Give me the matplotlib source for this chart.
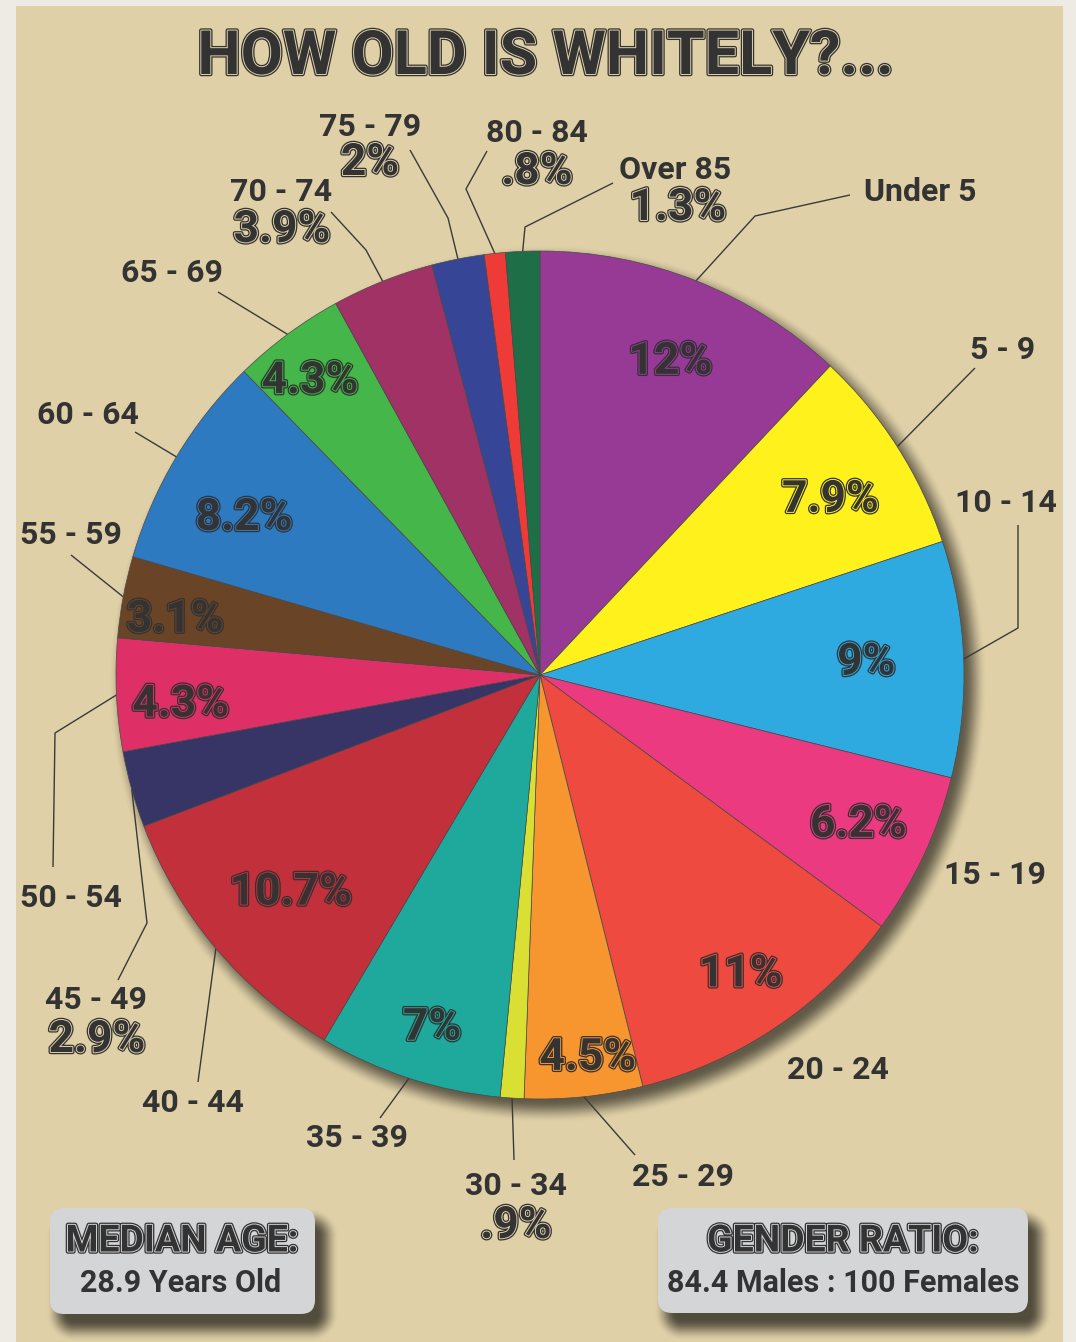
import numpy as np
import matplotlib
matplotlib.use("Agg")
import matplotlib.pyplot as plt
import matplotlib.patheffects as pe
from matplotlib.patches import FancyBboxPatch, Rectangle

W, H = 1076, 1342

# -------------------------------------------------------------------
# Data
# -------------------------------------------------------------------
age_groups = ["Under 5", "5 - 9", "10 - 14", "15 - 19", "20 - 24", "25 - 29",
              "30 - 34", "35 - 39", "40 - 44", "45 - 49", "50 - 54", "55 - 59",
              "60 - 64", "65 - 69", "70 - 74", "75 - 79", "80 - 84", "Over 85"]
shares = [12, 7.9, 9, 6.2, 11, 4.5, 0.9, 7, 10.7, 2.9, 4.3, 3.1, 8.2, 4.3,
          3.9, 2, 0.8, 1.3]
share_labels = ["12%", "7.9%", "9%", "6.2%", "11%", "4.5%", ".9%", "7%", "10.7%",
                "2.9%", "4.3%", "3.1%", "8.2%", "4.3%", "3.9%", "2%", ".8%", "1.3%"]
slice_colors = ["#963a96", "#fff21c", "#2eaae1", "#ec3a80", "#ee4a40", "#f7962e",
                "#d9e033", "#1fa99c", "#c1303b", "#373466", "#df2f67", "#6a4427",
                "#2e7ac0", "#45b649", "#a03265", "#374597", "#ef3b37", "#1e6e47"]
title = "HOW OLD IS WHITELY?..."
median_title, median_text = "MEDIAN AGE:", "28.9 Years Old"
gender_title, gender_text = "GENDER RATIO:", "84.4 Males : 100 Females"

# -------------------------------------------------------------------
# Layout (image pixel coordinates, y grows downward)
# -------------------------------------------------------------------
CX, CY, R = 540, 675, 424
DARK = "#333333"
BEIGE = "#dfd0a7"
BOXGRAY = "#d4d5d7"
FONT = ["Roboto", "DejaVu Sans"]

# radius fraction / angle nudge for percentage inside slice (None -> outside)
inner_r = [0.80, 0.80, 0.77, 0.83, 0.85, 0.91, None, 0.87, 0.78, None, 0.85,
           0.87, 0.79, 0.88, None, None, None, None]
inner_nudge = [1, 1.5, 0, 0, 0, -1.2, 0, -1, -1, 0, -2, -2, -3, -1.5,
               0, 0, 0, 0]
name_pos = [(920, 192), (1003, 350), (1006, 503), (995, 875), (838, 1070),
            (683, 1177), (516, 1186), (357, 1138), (193, 1103), (96, 1000),
            (71, 898), (71, 535), (88, 415), (172, 273), (281, 192),
            (370, 127), (537, 133), (675, 170)]
outer_pct_pos = {6: (516, 1226), 9: (97, 1040), 14: (282, 230), 15: (370, 163),
                 16: (537, 172), 17: (678, 208)}
leaders = [[(850, 195), (755, 216)], [(975, 368)], [(1018, 525), (1018, 628)],
           [], [], [(635, 1155)], [(514, 1160)], [(380, 1118)], [(198, 1082)],
           [(118, 980), (147, 923)], [(53, 867), (55, 733)], [(71, 555)],
           [(135, 432)], [(218, 292)], [(331, 212), (366, 250)],
           [(410, 150), (448, 218)], [(487, 151), (466, 189)],
           [(613, 183), (525, 227)]]


def smooth_fall(d, inner, outer):
    t = np.clip((d - inner) / (outer - inner), 0, 1)
    return 1 - t * t * (3 - 2 * t)


def rrect_dist(xx, yy, x0, y0, w, h, r):
    cx, cy = x0 + w / 2, y0 + h / 2
    qx = np.abs(xx - cx) - (w / 2 - r)
    qy = np.abs(yy - cy) - (h / 2 - r)
    outside = np.hypot(np.maximum(qx, 0), np.maximum(qy, 0))
    inside = np.minimum(np.maximum(qx, qy), 0)
    return outside + inside - r


def inline_text(x, y, s, size, gap, **kw):
    t = ax.text(x, y, s, fontsize=size, color=DARK, ha="center", va="center",
                family=FONT, fontweight="bold", zorder=6, **kw)
    t.set_path_effects([pe.Stroke(linewidth=3.2, foreground=DARK),
                        pe.Stroke(linewidth=1.4, foreground=gap),
                        pe.Normal()])
    return t


def plain_text(x, y, s, size=23):
    return ax.text(x, y, s, fontsize=size, color=DARK, ha="center", va="center",
                   family=FONT, fontweight="bold", zorder=6)


fig = plt.figure(figsize=(W / 100, H / 100), dpi=100, facecolor="#eeebe5")
ax = fig.add_axes([0, 0, 1, 1])
ax.set_facecolor("#eeebe5")

# beige panel
ax.add_patch(Rectangle((16, 6), 1047, H, facecolor=BEIGE, edgecolor="none", zorder=0))

# soft shadows for pie and boxes
boxes = [(50, 1208, 265, 106), (658, 1208, 370, 105)]
yy, xx = np.mgrid[0:H, 0:W] + 0.5
alpha = 0.8 * smooth_fall(np.hypot(xx - (CX + 8), yy - (CY + 9)) - R, -8, 15)
for (bx, by, bw, bh) in boxes:
    d = rrect_dist(xx, yy, bx + 10, by + 14, bw, bh, 14)
    alpha = np.maximum(alpha, 0.9 * smooth_fall(d, -8, 14))
shadow = np.zeros((H, W, 4))
shadow[..., 0], shadow[..., 1], shadow[..., 2] = 0.26, 0.24, 0.19
shadow[..., 3] = alpha
ax.imshow(shadow, extent=(0, W, H, 0), origin="upper", zorder=1,
          interpolation="bilinear")

# pie: y axis is inverted, so counterclock=True turns clockwise on screen
wedges, _ = ax.pie(shares, colors=slice_colors, startangle=270, counterclock=True,
                   radius=R, center=(CX, CY), frame=True,
                   wedgeprops=dict(edgecolor="#4a4a4a", linewidth=0.5))
for w in wedges:
    w.set_zorder(3)

for i, w in enumerate(wedges):
    mid = np.deg2rad((w.theta1 + w.theta2) / 2)
    ux, uy = np.cos(mid), np.sin(mid)
    if inner_r[i] is not None:
        a = mid + np.deg2rad(inner_nudge[i])
        inline_text(CX + inner_r[i] * R * np.cos(a), CY + inner_r[i] * R * np.sin(a),
                    share_labels[i], 32, slice_colors[i])
    else:
        px, py = outer_pct_pos[i]
        inline_text(px, py, share_labels[i], 32, BEIGE)
    nx, ny = name_pos[i]
    plain_text(nx, ny, age_groups[i])
    if leaders[i]:
        pts = leaders[i] + [(CX + R * ux, CY + R * uy)]
        ax.plot([p[0] for p in pts], [p[1] for p in pts], color="#3a3a3a",
                lw=1.0, zorder=2, solid_capstyle="butt")

# title
inline_text(546, 57, title, 44, BEIGE)

# info boxes
for (bx, by, bw, bh) in boxes:
    ax.add_patch(FancyBboxPatch((bx, by), bw, bh,
                                boxstyle="round,pad=0,rounding_size=14",
                                facecolor=BOXGRAY, edgecolor="none", zorder=4))
inline_text(182, 1241, median_title, 27, BOXGRAY)
plain_text(181, 1283, median_text, 22)
inline_text(843, 1241, gender_title, 27, BOXGRAY)
plain_text(843, 1283, gender_text, 22)

ax.set_xlim(0, W)
ax.set_ylim(H, 0)
ax.set_aspect("auto")
ax.axis("off")

fig.savefig("out.png", dpi=100, facecolor=fig.get_facecolor())
